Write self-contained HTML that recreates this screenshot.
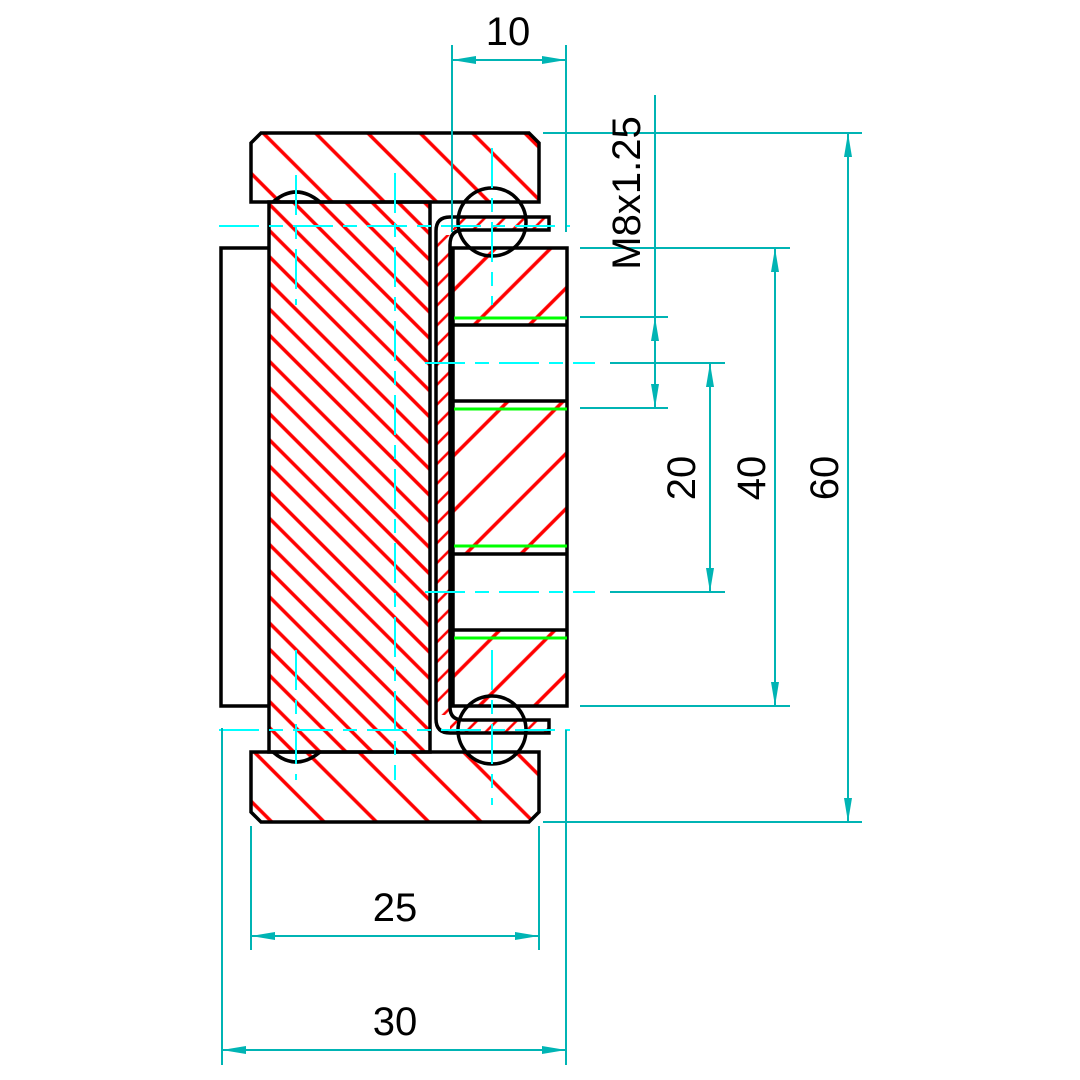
<!DOCTYPE html>
<html><head><style>html,body{margin:0;padding:0;background:#fff}svg{display:block}</style></head>
<body>
<svg width="1080" height="1080" viewBox="0 0 1080 1080" xmlns="http://www.w3.org/2000/svg" font-family="Liberation Sans, sans-serif">
<defs>
<pattern id="hA" patternUnits="userSpaceOnUse" width="37" height="37" patternTransform="rotate(-45)"><line x1="18" y1="0" x2="18" y2="37" stroke="#f00" stroke-width="3.5"/></pattern>
<pattern id="hB" patternUnits="userSpaceOnUse" width="18.5" height="18.5" patternTransform="rotate(-45)"><line x1="9" y1="0" x2="9" y2="18.5" stroke="#f00" stroke-width="3.5"/></pattern>
<pattern id="hC" patternUnits="userSpaceOnUse" width="39" height="39" patternTransform="rotate(45)"><line x1="19" y1="0" x2="19" y2="39" stroke="#f00" stroke-width="3.5"/></pattern>
<pattern id="hD" patternUnits="userSpaceOnUse" width="14" height="14" patternTransform="rotate(45)"><line x1="7" y1="0" x2="7" y2="14" stroke="#f00" stroke-width="2.5"/></pattern>
<marker id="ar" viewBox="0 0 24 10" refX="24" refY="5" markerWidth="24" markerHeight="10" markerUnits="userSpaceOnUse" orient="auto-start-reverse"><path d="M0,1 L24,5 L0,9 z" fill="#00b4b4"/></marker>
</defs>

<path d="M261,133 L529,133 L539,143 L539,202 L251,202 L251,143 Z" fill="url(#hA)"/>
<path d="M261,822 L529,822 L539,812 L539,752 L251,752 L251,812 Z" fill="url(#hA)"/>
<rect x="269" y="202" width="161" height="550" fill="url(#hB)"/>
<rect x="436" y="235" width="14" height="480" fill="url(#hD)"/>
<rect x="450" y="217" width="99" height="13" fill="url(#hD)"/>
<rect x="450" y="720" width="99" height="13" fill="url(#hD)"/>
<rect x="453" y="248" width="114" height="77" fill="url(#hC)"/>
<rect x="453" y="401" width="114" height="153" fill="url(#hC)"/>
<rect x="453" y="630" width="114" height="76" fill="url(#hC)"/>

<g fill="none" stroke="#000" stroke-width="3.5">
<path d="M261,133 L529,133 L539,143 L539,202 L251,202 L251,143 Z"/>
<path d="M261,822 L529,822 L539,812 L539,752 L251,752 L251,812 Z"/>
<rect x="269" y="202" width="161" height="550"/>
<path d="M269,248 L221,248 L221,706 L269,706"/>
<path d="M549,217 L450,217 Q436,217 436,231 L436,719 Q436,733 450,733 L549,733 L549,720 L463,720 Q450,720 450,707 L450,245 Q450,230 463,230 L549,230 Z"/>
<rect x="453" y="248" width="114" height="458"/>
<line x1="453" y1="325" x2="567" y2="325"/>
<line x1="453" y1="401" x2="567" y2="401"/>
<line x1="453" y1="554" x2="567" y2="554"/>
<line x1="453" y1="630" x2="567" y2="630"/>
<circle cx="492" cy="222" r="34"/>
<circle cx="492" cy="730" r="34"/>
<path d="M273,202 Q296,182 320,202"/>
<path d="M273,752 Q296,772 320,752"/>
</g>
<g stroke="#0f0" stroke-width="3">
<line x1="454" y1="318" x2="567" y2="318"/>
<line x1="454" y1="409" x2="567" y2="409"/>
<line x1="454" y1="546" x2="567" y2="546"/>
<line x1="454" y1="638" x2="567" y2="638"/>
</g>

<g stroke="#0ff" stroke-width="2" stroke-dasharray="40,10,14,10">
<line x1="219" y1="226" x2="570" y2="226"/>
<line x1="219" y1="730" x2="570" y2="730"/>
<line x1="425" y1="363" x2="595" y2="363"/>
<line x1="425" y1="592" x2="595" y2="592"/>
<line x1="395" y1="173" x2="395" y2="780"/>
<line x1="296" y1="175" x2="296" y2="305"/>
<line x1="296" y1="650" x2="296" y2="780"/>
<line x1="492" y1="148" x2="492" y2="305"/>
<line x1="492" y1="650" x2="492" y2="805"/>
</g>

<g stroke="#00b4b4" stroke-width="2" fill="none">
<line x1="452" y1="45" x2="452" y2="232"/>
<line x1="566" y1="45" x2="566" y2="232"/>
<line x1="452" y1="60" x2="566" y2="60" marker-start="url(#ar)" marker-end="url(#ar)"/>
<line x1="543" y1="133" x2="862" y2="133"/>
<line x1="543" y1="822" x2="862" y2="822"/>
<line x1="848" y1="133" x2="848" y2="822" marker-start="url(#ar)" marker-end="url(#ar)"/>
<line x1="580" y1="248" x2="790" y2="248"/>
<line x1="580" y1="706" x2="790" y2="706"/>
<line x1="775" y1="248" x2="775" y2="706" marker-start="url(#ar)" marker-end="url(#ar)"/>
<line x1="610" y1="363" x2="725" y2="363"/>
<line x1="610" y1="592" x2="725" y2="592"/>
<line x1="710" y1="363" x2="710" y2="592" marker-start="url(#ar)" marker-end="url(#ar)"/>
<line x1="580" y1="317" x2="668" y2="317"/>
<line x1="580" y1="408" x2="668" y2="408"/>
<line x1="655" y1="95" x2="655" y2="317"/>
<line x1="655" y1="317" x2="655" y2="408" marker-start="url(#ar)" marker-end="url(#ar)"/>
<line x1="251" y1="826" x2="251" y2="950"/>
<line x1="539" y1="826" x2="539" y2="950"/>
<line x1="251" y1="936" x2="539" y2="936" marker-start="url(#ar)" marker-end="url(#ar)"/>
<line x1="222" y1="728" x2="222" y2="1065"/>
<line x1="566" y1="730" x2="566" y2="1065"/>
<line x1="222" y1="1050" x2="566" y2="1050" marker-start="url(#ar)" marker-end="url(#ar)"/>
</g>
<g fill="#000" font-size="40" text-anchor="middle">
<text x="508" y="45">10</text>
<text x="395" y="921">25</text>
<text x="395" y="1035">30</text>
<text transform="translate(838,478) rotate(-90)">60</text>
<text transform="translate(765,478) rotate(-90)">40</text>
<text transform="translate(695,478) rotate(-90)">20</text>
<text transform="translate(640,193) rotate(-90)">M8x1.25</text>
</g>
</svg>
</body></html>
